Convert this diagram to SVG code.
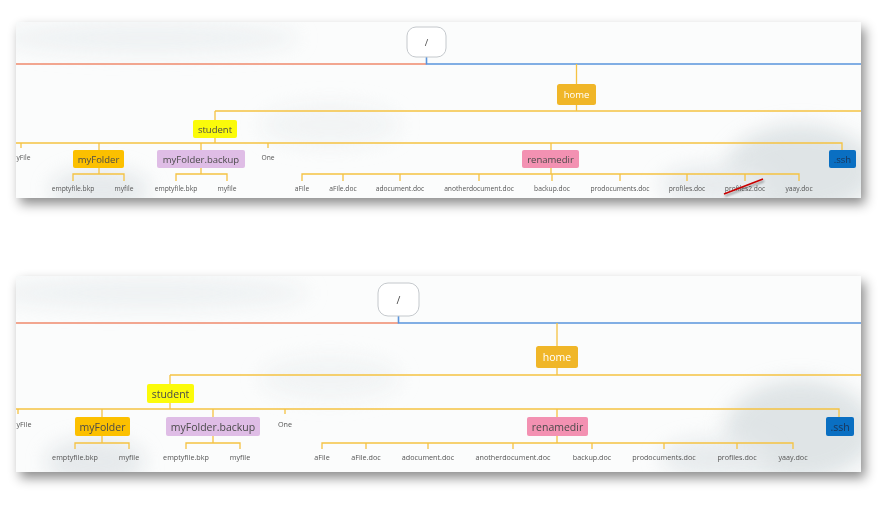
<svg xmlns="http://www.w3.org/2000/svg" width="889" height="505" viewBox="0 0 889 505">
<style>
.lbl{font-family:"Open Sans","Liberation Sans",sans-serif;fill:#4a4a4a;text-anchor:middle;dominant-baseline:central}
.t1{font-size:9.5px}
.t2{font-size:10.5px}
.leaf1{font-size:6.7px;fill:#555}
.leaf2{font-size:7.2px;fill:#555}
.gold{fill:none;stroke:#f5c242;stroke-width:1.3}
.red{fill:none;stroke:#ef8a6c;stroke-width:1.6}
.blue{fill:none;stroke:#5a94dc;stroke-width:1.6}
.root{fill:#fff;stroke:#c4c8cc;stroke-width:1}
.panel{fill:#fbfcfc}
.cl{filter:url(#blur)}
</style>
<defs>
<filter id="sh" x="-5%" y="-20%" width="112%" height="145%">
<feDropShadow dx="4" dy="6" stdDeviation="6" flood-color="#000" flood-opacity="0.45"/>
</filter>
<filter id="blur" x="-100%" y="-100%" width="300%" height="300%">
<feGaussianBlur stdDeviation="10"/>
</filter>
<filter id="lsh" x="-20%" y="-50%" width="140%" height="200%">
<feDropShadow dx="1" dy="2" stdDeviation="1" flood-color="#000" flood-opacity="0.4"/>
</filter>
<clipPath id="c1"><rect x="16" y="22" width="845" height="176"/></clipPath>
<clipPath id="c2"><rect x="16" y="276" width="845" height="196"/></clipPath>
</defs>
<rect width="889" height="505" fill="#fff"/>
<!-- panels -->
<rect class="panel" x="16" y="22" width="845" height="176" filter="url(#sh)"/>
<rect class="panel" x="16" y="276" width="845" height="196" filter="url(#sh)"/>
<g clip-path="url(#c1)" opacity="0.7">
<ellipse class="cl" cx="150" cy="38" rx="150" ry="16" fill="#e9edef"/>
<ellipse class="cl" cx="100" cy="190" rx="50" ry="22" fill="#dde2e5"/>
<ellipse class="cl" cx="800" cy="170" rx="75" ry="45" fill="#d3dadd"/>
<ellipse class="cl" cx="715" cy="185" rx="55" ry="20" fill="#dfe4e7"/>
<ellipse class="cl" cx="330" cy="125" rx="70" ry="22" fill="#eef1f2"/>
</g>
<g clip-path="url(#c2)" opacity="0.7">
<ellipse class="cl" cx="150" cy="293" rx="160" ry="16" fill="#e9edef"/>
<ellipse class="cl" cx="95" cy="462" rx="50" ry="24" fill="#dde2e5"/>
<ellipse class="cl" cx="800" cy="430" rx="75" ry="50" fill="#d3dadd"/>
<ellipse class="cl" cx="715" cy="458" rx="55" ry="20" fill="#dfe4e7"/>
<ellipse class="cl" cx="330" cy="378" rx="70" ry="22" fill="#eef1f2"/>
</g>
<!-- connectors -->
<g id="connectors">
<path class="red" d="M16 64H426.5"/>
<path class="blue" d="M426.5 57V64H861"/>
<path class="gold" d="M576.5 64V84M576.5 105V111M215 111H861M215 111V120M215 138V143M16 143H842V150"/>
<path class="gold" d="M21 143V148M99 143V150M201 143V150M268 143V148M551 143V150"/>
<path class="gold" d="M99 168V174M73 181V174H124V181M201 168V174M176 181V174H227V181"/>
<path class="gold" d="M551 168V174M302 181V174H799V181M343 174V181M400 174V181M479 174V181M552 174V181M620 174V181M687 174V181M745 174V181"/>
<path class="red" d="M16 323H398.5"/>
<path class="blue" d="M398.5 316V323H861"/>
<path class="gold" d="M557 323V346M557 368V375M170 375H861M170 375V384M170 403V409M16 409H839V417"/>
<path class="gold" d="M18 409V414M102 409V417M213 409V417M285 409V414M557 409V417"/>
<path class="gold" d="M102 436V443M75 449V443H129V449M213 436V443M186 449V443H240V449"/>
<path class="gold" d="M557 436V443M322 449V443H793V449M366 443V449M428 443V449M513 443V449M592 443V449M664 443V449M737 443V449"/>
</g>
<!-- top panel nodes -->
<g id="root1"><rect class="root" x="407" y="27" width="39" height="30" rx="9"/><text class="lbl t1" x="426.5" y="42">/</text></g>
<g id="home1"><rect x="557" y="84" width="39" height="21" rx="2.5" fill="#f0b628"/><text class="lbl t1" x="576.5" y="94.5" style="fill:#fff">home</text></g>
<g id="student1"><rect x="193" y="120" width="44" height="18" rx="2" fill="#fbfb0a"/><text class="lbl t1" x="215" y="129">student</text></g>
<g id="myfile1"><text class="lbl leaf1" x="16.5" y="157" style="text-anchor:start">yFile</text></g>
<g id="myFolder1"><rect x="73" y="150" width="51" height="18" rx="2" fill="#fcc000"/><text class="lbl t1" x="98.5" y="159">myFolder</text></g>
<g id="backup1"><rect x="157" y="150" width="88" height="18" rx="2" fill="#dfbde6"/><text class="lbl t1" x="201" y="159">myFolder.backup</text></g>
<g id="one1"><text class="lbl leaf1" x="268" y="157">One</text></g>
<g id="renamedir1"><rect x="522" y="150" width="57" height="18" rx="2" fill="#f391b2"/><text class="lbl t1" x="550.5" y="159">renamedir</text></g>
<g id="ssh1"><rect x="829" y="150" width="27" height="18" rx="2" fill="#0a6fc2"/><text class="lbl t1" x="842.5" y="159" style="fill:#1b3355">.ssh</text></g>
<g id="leaves1">
<text class="lbl leaf1" x="73" y="188">emptyfile.bkp</text>
<text class="lbl leaf1" x="124" y="188">myfile</text>
<text class="lbl leaf1" x="176" y="188">emptyfile.bkp</text>
<text class="lbl leaf1" x="227" y="188">myfile</text>
<text class="lbl leaf1" x="302" y="188">aFile</text>
<text class="lbl leaf1" x="343" y="188">aFile.doc</text>
<text class="lbl leaf1" x="400" y="188">adocument.doc</text>
<text class="lbl leaf1" x="479" y="188">anotherdocument.doc</text>
<text class="lbl leaf1" x="552" y="188">backup.doc</text>
<text class="lbl leaf1" x="620" y="188">prodocuments.doc</text>
<text class="lbl leaf1" x="687" y="188">profiles.doc</text>
<text class="lbl leaf1" x="745" y="188">profiles2.doc</text>
<text class="lbl leaf1" x="799" y="188">yaay.doc</text>
</g>
<line x1="724" y1="194" x2="763" y2="179" stroke="#c80000" stroke-width="1.6" filter="url(#lsh)"/>
<!-- bottom panel nodes -->
<g id="root2"><rect class="root" x="378" y="283" width="41" height="33" rx="10"/><text class="lbl t2" x="398.5" y="299.5">/</text></g>
<g id="home2"><rect x="536" y="346" width="42" height="22" rx="2.5" fill="#f0b628"/><text class="lbl t2" x="557" y="357" style="fill:#fff">home</text></g>
<g id="student2"><rect x="147" y="384" width="47" height="19" rx="2" fill="#fbfb0a"/><text class="lbl t2" x="170.5" y="393.5">student</text></g>
<g id="myfile2"><text class="lbl leaf2" x="16.5" y="424" style="text-anchor:start">yFile</text></g>
<g id="myFolder2"><rect x="75" y="417" width="55" height="19" rx="2" fill="#fcc000"/><text class="lbl t2" x="102.5" y="426.5">myFolder</text></g>
<g id="backup2"><rect x="166" y="417" width="94" height="19" rx="2" fill="#dfbde6"/><text class="lbl t2" x="213" y="426.5">myFolder.backup</text></g>
<g id="one2"><text class="lbl leaf2" x="285" y="424">One</text></g>
<g id="renamedir2"><rect x="527" y="417" width="61" height="19" rx="2" fill="#f391b2"/><text class="lbl t2" x="557.5" y="426.5">renamedir</text></g>
<g id="ssh2"><rect x="826" y="417" width="28" height="19" rx="2" fill="#0a6fc2"/><text class="lbl t2" x="840" y="426.5" style="fill:#1b3355">.ssh</text></g>
<g id="leaves2">
<text class="lbl leaf2" x="75" y="457">emptyfile.bkp</text>
<text class="lbl leaf2" x="129" y="457">myfile</text>
<text class="lbl leaf2" x="186" y="457">emptyfile.bkp</text>
<text class="lbl leaf2" x="240" y="457">myfile</text>
<text class="lbl leaf2" x="322" y="457">aFile</text>
<text class="lbl leaf2" x="366" y="457">aFile.doc</text>
<text class="lbl leaf2" x="428" y="457">adocument.doc</text>
<text class="lbl leaf2" x="513" y="457">anotherdocument.doc</text>
<text class="lbl leaf2" x="592" y="457">backup.doc</text>
<text class="lbl leaf2" x="664" y="457">prodocuments.doc</text>
<text class="lbl leaf2" x="737" y="457">profiles.doc</text>
<text class="lbl leaf2" x="793" y="457">yaay.doc</text>
</g>
</svg>
